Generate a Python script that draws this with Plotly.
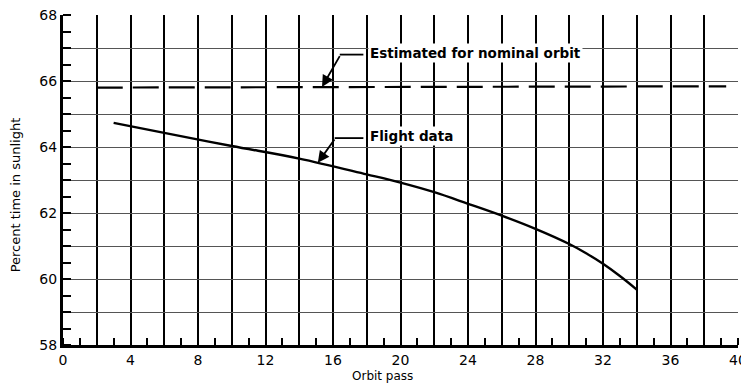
import plotly.graph_objects as go

# Flight data (orbit pass vs percent time in sunlight)
flight_pass = [3, 6, 10, 14, 18, 20, 22, 24, 26, 28, 30, 31, 32, 33, 34]
flight_pct = [64.73, 64.43, 64.03, 63.65, 63.17, 62.92, 62.63, 62.28, 61.92, 61.52, 61.06, 60.78, 60.46, 60.09, 59.68]

# Estimated for nominal orbit
nominal_pass = [2, 39.3]
nominal_pct = [65.8, 65.84]

x_major = list(range(0, 41, 2))
x_labels = [str(v) if v % 4 == 0 else "" for v in x_major]
y_major = list(range(58, 69, 1))
y_labels = [str(v) if v % 2 == 0 else "" for v in y_major]

FONT = "DejaVu Sans"

fig = go.Figure()
fig.add_trace(go.Scatter(x=nominal_pass, y=nominal_pct, mode="lines",
                         line=dict(color="black", width=2.2, dash="26px,10px"),
                         showlegend=False, hoverinfo="skip"))
fig.add_trace(go.Scatter(x=flight_pass, y=flight_pct, mode="lines",
                         line=dict(color="black", width=2.4, shape="spline", smoothing=1.0),
                         showlegend=False, hoverinfo="skip"))

# leader lines (horizontal part)
fig.add_shape(type="line", x0=16.4, y0=66.8, x1=17.8, y1=66.8, xref="x", yref="y",
              line=dict(color="black", width=1.8))
fig.add_shape(type="line", x0=16.1, y0=64.27, x1=17.8, y1=64.27, xref="x", yref="y",
              line=dict(color="black", width=1.8))

# arrows (diagonal part)
fig.add_annotation(x=15.35, y=65.82, ax=16.45, ay=66.8, xref="x", yref="y", axref="x", ayref="y",
                   text="", showarrow=True, arrowhead=2, arrowsize=1.3, arrowwidth=1.8, arrowcolor="black")
fig.add_annotation(x=15.1, y=63.52, ax=16.15, ay=64.27, xref="x", yref="y", axref="x", ayref="y",
                   text="", showarrow=True, arrowhead=2, arrowsize=1.3, arrowwidth=1.8, arrowcolor="black")

# labels
fig.add_annotation(x=18.05, y=66.85, xref="x", yref="y", text="<b>Estimated for nominal orbit</b>",
                   showarrow=False, xanchor="left", yanchor="middle", bgcolor="white",
                   font=dict(family=FONT, size=13.5, color="black"), borderpad=1)
fig.add_annotation(x=18.1, y=64.32, xref="x", yref="y", text="<b>Flight data</b>",
                   showarrow=False, xanchor="left", yanchor="middle", bgcolor="white",
                   font=dict(family=FONT, size=13.5, color="black"), borderpad=1)

# axis titles
fig.add_annotation(x=18.93, y=0, xref="x", yref="paper", yshift=-31, text="Orbit pass",
                   showarrow=False, xanchor="center", yanchor="middle",
                   font=dict(family=FONT, size=12, color="black"))
fig.add_annotation(x=0, y=62.55, xref="paper", yref="y", xshift=-57, text="Percent time in sunlight",
                   showarrow=False, xanchor="left", yanchor="middle", textangle=-90,
                   font=dict(family=FONT, size=13, color="black"))

fig.update_xaxes(range=[0, 40], tickmode="array", tickvals=x_major, ticktext=x_labels,
                 showgrid=True, gridcolor="black", gridwidth=2,
                 ticks="", showline=True, linecolor="black", linewidth=3,
                 minor=dict(dtick=1, ticks="inside", ticklen=7, tickwidth=2, tickcolor="black", showgrid=False),
                 tickfont=dict(family=FONT, size=14, color="black"), ticklabeloverflow="allow",
                 zeroline=False, automargin=False)
fig.update_yaxes(range=[58, 68], tickmode="array", tickvals=y_major, ticktext=y_labels,
                 showgrid=True, gridcolor="#555555", gridwidth=1,
                 ticks="", showline=True, linecolor="black", linewidth=3,
                 minor=dict(dtick=0.5, ticks="inside", ticklen=8, tickwidth=2, tickcolor="black", showgrid=False),
                 tickfont=dict(family=FONT, size=14, color="black"), ticklabeloverflow="allow",
                 zeroline=False, automargin=False)

# page body has an 8px margin, so the figure is 8px smaller and margins are offset
fig.update_layout(width=741, height=376, margin=dict(l=55, r=11, t=7, b=39),
                  plot_bgcolor="white", paper_bgcolor="white", showlegend=False)

fig.write_html("out.html")
